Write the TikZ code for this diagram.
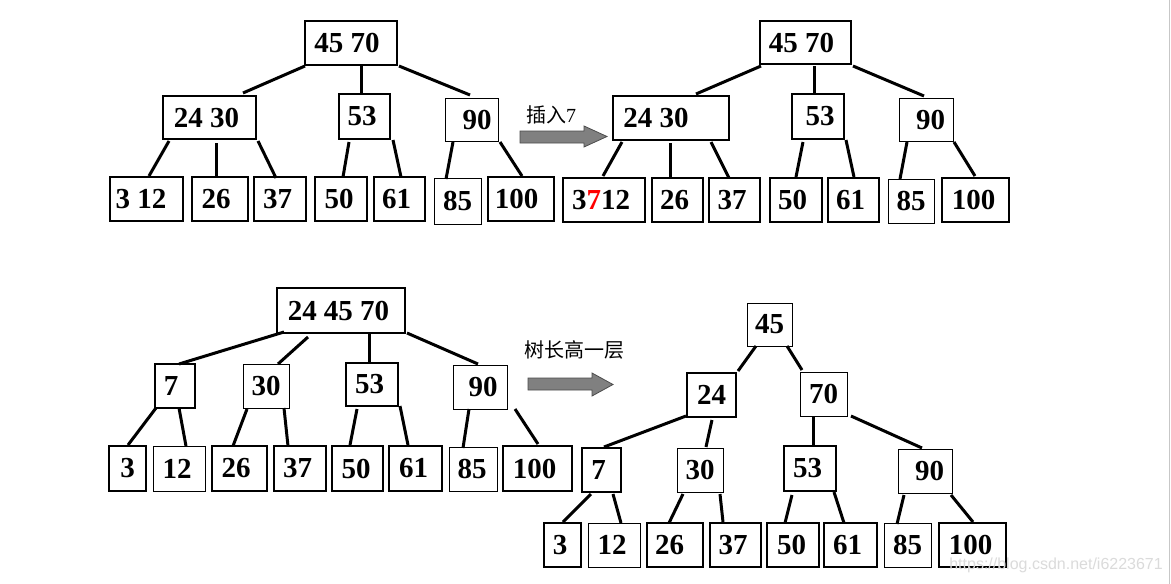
\documentclass[tikz,border=0pt]{standalone}
\usepackage{fontspec}
\setmainfont{Liberation Serif}
\newfontfamily\cjk{Noto Sans CJK SC}
\newfontfamily\wmfont{Liberation Sans}
\tikzset{
  bx/.style={draw, line width=2.5pt, inner sep=0pt, outer sep=0pt, font=\fontsize{29}{29}\selectfont\bfseries},
  thinbx/.style={bx, line width=1pt},
  edge/.style={line width=3pt},
  garrow/.style={fill=black!50, draw=black!70, line width=0.8pt},
  captext/.style={font=\fontsize{20}{20}\selectfont, inner sep=0pt},
}
% name, x1, y1, x2, y2, style, kern, text
\newcommand\bx[8]{\node[#6, minimum width={#4-#2-2}, minimum height={#5-#3-2}] (#1) at ({(#2+#4)/2},{(#3+#5)/2}) {\kern#7pt #8};}
% parent, dx, dy (from south west), child, dx, dy (from north west)
\newcommand\edg[6]{\draw[edge] ([shift={(#2,#3)}]#1.south west) -- ([shift={(#5,#6)}]#4.north west);}
\begin{document}
\begin{tikzpicture}[x=1pt,y=-1pt]
\fill[white] (0,0) rectangle (1171,584);
\useasboundingbox (0,0) rectangle (1171,584);
\draw[black!22, line width=1.5pt] (1169.5,0) -- (1169.5,584);

% ---------- Tree A (top left) ----------
\bx{A0}{304}{20}{398}{66}{bx}{-8}{45 70}
\bx{A1}{162}{95}{257}{140}{bx}{-6}{24 30}
\bx{A2}{338}{93}{391}{140}{bx}{-5}{53}
\bx{A3}{444}{97}{499}{142}{thinbx}{11}{90}
\bx{A4}{109}{176}{184}{222}{bx}{-11}{3 12}
\bx{A5}{191}{176}{249}{222}{bx}{-8}{26}
\bx{A6}{253}{176}{307}{222}{bx}{-5}{37}
\bx{A7}{314}{176}{368}{222}{bx}{-4}{50}
\bx{A8}{373}{176}{426}{222}{bx}{-6}{61}
\bx{A9}{433}{177}{482}{225}{thinbx}{0}{85}
\bx{A10}{487}{176}{555}{222}{bx}{-9}{100}
\edg{A0}{0}{1}{A1}{80}{-3}
\edg{A0}{56}{1}{A2}{22}{0}
\edg{A0}{94}{1}{A3}{25}{-3}
\edg{A1}{6}{2}{A4}{39}{-1}
\edg{A1}{53}{4}{A5}{24}{1}
\edg{A1}{95}{2}{A6}{22}{1}
\edg{A2}{10}{3}{A7}{28}{0}
\edg{A2}{54}{1}{A8}{27}{0}
\edg{A3}{8}{1}{A9}{12}{1}
\edg{A3}{55}{1}{A10}{34}{-1}

% arrow 1
\node[captext, anchor=center] (t1) at (551,115) {{\cjk 插入}7};
\draw[garrow] (520,131) -- (584,131) -- (584,126) -- (607,136.5) -- (584,147) -- (584,143) -- (520,143) -- cycle;

% ---------- Tree B (top right) ----------
\bx{B0}{759}{20}{852}{65}{bx}{-8}{45 70}
\bx{B1}{612}{95}{730}{141}{bx}{-30}{24 30}
\bx{B2}{791}{93}{845}{140}{bx}{4}{53}
\bx{B3}{898}{97}{954}{142}{thinbx}{9}{90}
\bx{B4}{562}{177}{646}{223}{bx}{-6}{3\textcolor{red}{7}12}
\bx{B5}{651}{177}{704}{223}{bx}{-6}{26}
\bx{B6}{708}{177}{761}{223}{bx}{-5}{37}
\bx{B7}{769}{177}{823}{223}{bx}{-7}{50}
\bx{B8}{827}{177}{880}{223}{bx}{-6}{61}
\bx{B9}{887}{178}{935}{224}{thinbx}{0}{85}
\bx{B10}{941}{177}{1010}{223}{bx}{-4}{100}
\edg{B0}{1}{2}{B1}{83}{-2}
\edg{B0}{54}{2}{B2}{22}{0}
\edg{B0}{93}{2}{B3}{25}{-2}
\edg{B1}{9}{2}{B4}{40}{-2}
\edg{B1}{57}{3}{B5}{18}{0}
\edg{B1}{98}{2}{B6}{20}{0}
\edg{B2}{11}{3}{B7}{26}{-1}
\edg{B2}{54}{1}{B8}{26}{-1}
\edg{B3}{8}{1}{B9}{12}{0}
\edg{B3}{55}{1}{B10}{33}{-2}

% ---------- Tree C (bottom left) ----------
\bx{C0}{276}{287}{406}{334}{bx}{-5}{24 45 70}
\bx{C1}{154}{363}{196}{409}{bx}{-8}{7}
\bx{C2}{242}{363}{290}{409}{thinbx}{0}{30}
\bx{C3}{345}{362}{399}{407}{bx}{-5}{53}
\bx{C4}{452}{364}{508}{410}{thinbx}{6}{90}
\bx{C5}{108}{445}{147}{492}{bx}{0}{3}
\bx{C6}{152}{445}{206}{492}{thinbx}{-4}{12}
\bx{C7}{211}{445}{268}{492}{bx}{-7}{26}
\bx{C8}{273}{445}{327}{492}{bx}{-5}{37}
\bx{C9}{331}{445}{384}{492}{bx}{-3}{50}
\bx{C10}{388}{445}{443}{492}{bx}{-4}{61}
\bx{C11}{448}{446}{498}{492}{thinbx}{-2}{85}
\bx{C12}{502}{445}{573}{492}{bx}{-6}{100}
\edg{C0}{7}{-1}{C1}{24}{0}
\edg{C0}{31}{4}{C2}{35}{0}
\edg{C0}{92}{1}{C3}{23}{0}
\edg{C0}{130}{0}{C4}{25}{-1}
\edg{C1}{1}{0}{C5}{19}{-1}
\edg{C1}{24}{0}{C6}{33}{0}
\edg{C2}{4}{1}{C7}{21}{0}
\edg{C2}{41}{0}{C8}{14}{0}
\edg{C3}{11}{3}{C9}{18}{-1}
\edg{C3}{54}{0}{C10}{19}{-1}
\edg{C4}{16}{0}{C11}{14}{1}
\edg{C4}{62}{0}{C12}{35}{-2}

% arrow 2
\node[captext, anchor=center] (t2) at (574,350) {\cjk 树长高一层};
\draw[garrow] (528,378) -- (592,378) -- (592,373) -- (613,384.5) -- (592,396) -- (592,390) -- (528,390) -- cycle;

% ---------- Tree D (bottom right) ----------
\bx{D0}{746}{302}{793}{347}{thinbx}{0}{45}
\bx{D1}{686}{372}{737}{418}{bx}{0}{24}
\bx{D2}{799}{371}{848}{417}{thinbx}{0}{70}
\bx{D3}{581}{447}{622}{493}{bx}{-6}{7}
\bx{D4}{676}{447}{724}{493}{thinbx}{0}{30}
\bx{D5}{783}{445}{837}{492}{bx}{-5}{53}
\bx{D6}{897}{448}{953}{494}{thinbx}{9}{90}
\bx{D7}{543}{522}{582}{568}{bx}{-5}{3}
\bx{D8}{587}{522}{641}{568}{thinbx}{-4}{12}
\bx{D9}{646}{522}{704}{568}{bx}{-11}{26}
\bx{D10}{709}{522}{762}{568}{bx}{-5}{37}
\bx{D11}{766}{522}{820}{568}{bx}{-3}{50}
\bx{D12}{823}{522}{878}{568}{bx}{-6}{61}
\bx{D13}{883}{522}{932}{568}{thinbx}{0}{85}
\bx{D14}{938}{522}{1007}{568}{bx}{-4}{100}
\edg{D0}{9}{0}{D1}{51}{-2}
\edg{D0}{40}{0}{D2}{2}{-2}
\edg{D1}{-1}{-1}{D3}{22}{-1}
\edg{D1}{25}{3}{D4}{29}{-1}
\edg{D2}{13}{1}{D5}{29}{-1}
\edg{D2}{51}{0}{D6}{24}{-1}
\edg{D3}{9}{2}{D7}{19}{-1}
\edg{D3}{31}{2}{D8}{33}{0}
\edg{D4}{6}{2}{D9}{22}{0}
\edg{D4}{43}{2}{D10}{13}{-1}
\edg{D5}{8}{4}{D11}{18}{0}
\edg{D5}{50}{1}{D12}{20}{0}
\edg{D6}{6}{2}{D13}{13}{1}
\edg{D6}{53}{2}{D14}{34}{-1}

% watermark
\node[anchor=base east, inner sep=0pt, text=black!14, font=\wmfont\fontsize{16}{16}\selectfont] (wm) at (1163,569.5) {https://blog.csdn.net/i6223671};
\end{tikzpicture}
\end{document}
